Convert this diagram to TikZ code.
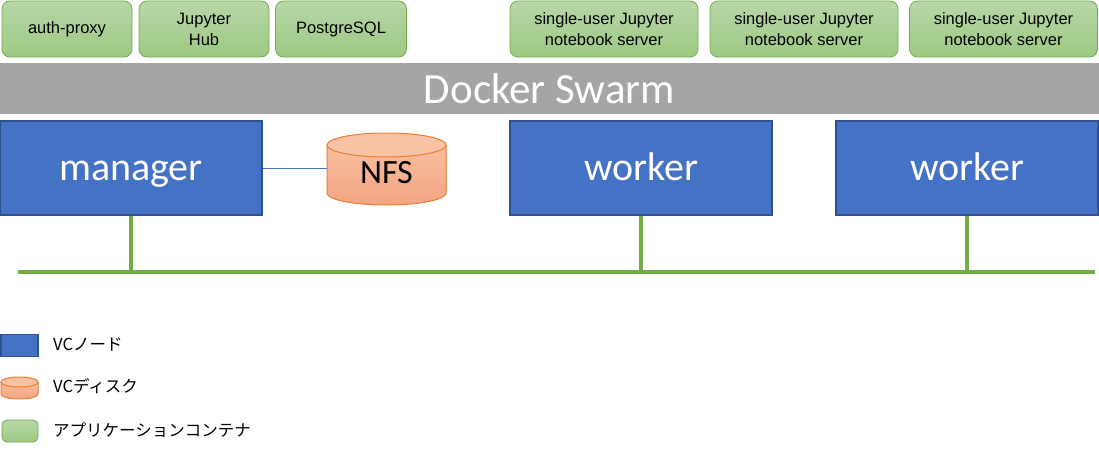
\documentclass[tikz,border=0pt]{standalone}
\usepackage{fontspec}
\setmainfont{Liberation Sans}
\newfontfamily\calib{Carlito}
\newfontfamily\cjk{Noto Sans CJK JP}
\definecolor{gfillA}{HTML}{B7D7A8}
\definecolor{gfillB}{HTML}{9DC983}
\definecolor{gborder}{HTML}{70AD47}
\definecolor{swarmgray}{HTML}{A5A5A5}
\definecolor{vcblue}{HTML}{4472C4}
\definecolor{vcborder}{HTML}{2F528F}
\definecolor{ofillA}{HTML}{F8C3A5}
\definecolor{ofillB}{HTML}{F4A582}
\definecolor{oborder}{HTML}{ED7D31}
\newcommand\mycyl[5]{% L B R T ry
  \fill[top color=ofillA,bottom color=ofillB] (#1,#4-#5) -- (#1,#2+#5)
    arc[start angle=180,end angle=360,x radius={(#3-#1)/2},y radius=#5]
    -- (#3,#4-#5) arc[start angle=0,end angle=180,x radius={(#3-#1)/2},y radius=#5] -- cycle;
  \draw[oborder,line width=1pt] (#1,#4-#5) -- (#1,#2+#5)
    arc[start angle=180,end angle=360,x radius={(#3-#1)/2},y radius=#5]
    -- (#3,#4-#5);
  \draw[oborder,line width=1pt,fill=ofillA] ({(#1+#3)/2},#4-#5) ellipse[x radius={(#3-#1)/2},y radius=#5];
}
\tikzset{
  app/.style={draw=gborder,line width=0.8pt,rounded corners=8pt,top color=gfillA,bottom color=gfillB,
    minimum height=56pt,inner sep=0pt,align=center,font=\fontsize{16.5}{21}\selectfont},
  vc/.style={draw=vcborder,line width=1.5pt,fill=vcblue,minimum height=94pt,minimum width=262pt,
    inner sep=0pt,text=white,text height=32pt,text depth=8pt,font=\calib\fontsize{40}{44}\selectfont},
  net/.style={draw=gborder,line width=4pt},
  legtext/.style={anchor=west,inner sep=0pt,font=\cjk\fontsize{16.5}{20}\selectfont}
}
\begin{document}
\begin{tikzpicture}[x=1pt,y=1pt]
\useasboundingbox (0,0) rectangle (1099,451);
% application containers
\node[app,minimum width=130pt] (auth) at (67,422) {auth-proxy};
\node[app,minimum width=130pt] (hub) at (204,422) {Jupyter\\Hub};
\node[app,minimum width=131pt] (pg) at (341,422) {PostgreSQL};
\node[app,minimum width=188pt] (su1) at (604,422) {single-user Jupyter\\notebook server};
\node[app,minimum width=188pt] (su2) at (804,422) {single-user Jupyter\\notebook server};
\node[app,minimum width=188pt] (su3) at (1003.5,422) {single-user Jupyter\\notebook server};
% swarm
\node[fill=swarmgray,minimum width=1099pt,minimum height=51pt,inner sep=0pt,text=white,
  font=\calib\fontsize{43}{46}\selectfont] (swarm) at (549.5,362.5) {Docker Swarm};
% VC nodes
\node[vc] (mgr) at (131,283) {manager};
\node[vc] (w1) at (641,283) {worker};
\node[vc] (w2) at (967,283) {worker};
% NFS
\mycyl{327}{246}{446}{318}{12}
\node[minimum width=119pt,minimum height=72pt,inner sep=0pt,text height=28pt,text depth=0pt,
  font=\calib\fontsize{34}{38}\selectfont] (nfs) at (386.5,282) {NFS};
\draw[vcblue,line width=0.8pt] (mgr.east) -- (mgr.east -| nfs.west);
% network
\coordinate (nL) at (18,179);
\coordinate (nR) at (1095,179);
\draw[net] (nL) -- (nR);
\draw[net] (mgr.south) -- (mgr.south |- nL);
\draw[net] (w1.south) -- (w1.south |- nL);
\draw[net] (w2.south) -- (w2.south |- nL);
% legend
\node[draw=vcborder,line width=1.5pt,fill=vcblue,minimum width=37pt,minimum height=22pt,inner sep=0pt] (lvc) at (19.5,105.5) {};
\node[legtext] (tvc) at (53,107) {VCノード};
\mycyl{1}{52}{38}{74}{5}
\coordinate (lcyl) at (19.5,63);
\node[legtext] (tdisk) at (53,64.5) {VCディスク};
\node[draw=gborder,line width=0.8pt,rounded corners=5pt,top color=gfillA,bottom color=gfillB,
  minimum width=36pt,minimum height=22pt,inner sep=0pt] (lapp) at (20,20) {};
\node[legtext] (tapp) at (53,21) {アプリケーションコンテナ};
\end{tikzpicture}
\end{document}
